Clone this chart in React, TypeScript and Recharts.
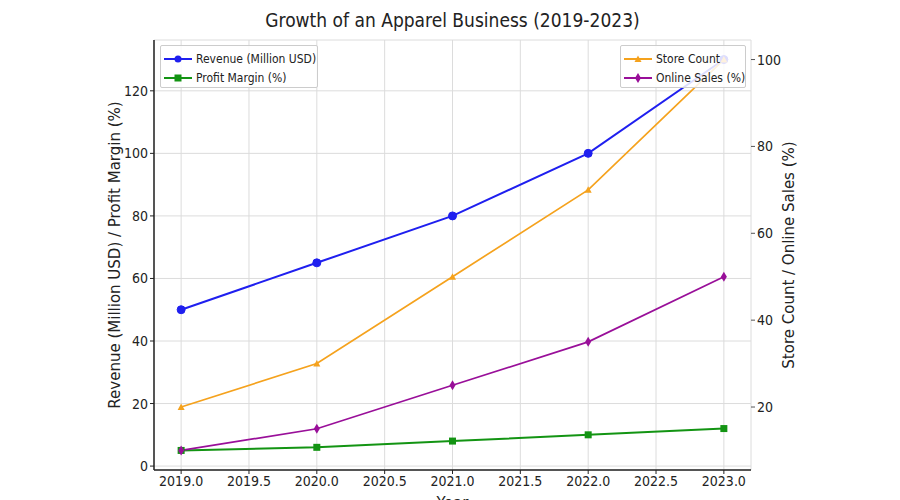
import { LineChart, Line, XAxis, YAxis, CartesianGrid } from "recharts";

const years = [2019, 2020, 2021, 2022, 2023];
const revenue = [50, 65, 80, 100, 130];
const profitMargin = [5, 6, 8, 10, 12];
const storeCount = [20, 30, 50, 70, 100];
const onlineSales = [10, 15, 25, 35, 50];

const xTicks = [2019, 2019.5, 2020, 2020.5, 2021, 2021.5, 2022, 2022.5, 2023];
const leftTicks = [0, 20, 40, 60, 80, 100, 120];
const rightTicks = [20, 40, 60, 80, 100];

const BLUE = "#1f1fef";
const GREEN = "#139413";
const ORANGE = "#f5a21d";
const PURPLE = "#990f99";
const FONT = "'DejaVu Sans', sans-serif";

const data = years.map((year, i) => ({
  year,
  revenue: revenue[i],
  profit: profitMargin[i],
  stores: storeCount[i],
  online: onlineSales[i],
}));

// marker shapes, roughly like matplotlib's o / s / ^ / d
const circleDot = (color: string) => (p: any) => (
  <circle key={`c${p.index}`} cx={p.cx} cy={p.cy} r={4} fill={color} stroke={color} />
);
const squareDot = (color: string) => (p: any) => (
  <rect key={`s${p.index}`} x={p.cx - 3.5} y={p.cy - 3.5} width={7} height={7} fill={color} />
);
const triangleDot = (color: string) => (p: any) => (
  <polygon
    key={`t${p.index}`}
    points={`${p.cx},${p.cy - 3.5} ${p.cx - 3.5},${p.cy + 3} ${p.cx + 3.5},${p.cy + 3}`}
    fill={color}
  />
);
const diamondDot = (color: string) => (p: any) => (
  <polygon
    key={`d${p.index}`}
    points={`${p.cx},${p.cy - 5} ${p.cx + 3},${p.cy} ${p.cx},${p.cy + 5} ${p.cx - 3},${p.cy}`}
    fill={color}
  />
);

const leftLegend = [
  { name: "Revenue (Million USD)", color: BLUE, marker: "circle" },
  { name: "Profit Margin (%)", color: GREEN, marker: "square" },
];
const rightLegend = [
  { name: "Store Count", color: ORANGE, marker: "triangle" },
  { name: "Online Sales (%)", color: PURPLE, marker: "diamond" },
];

const LegendIcon = ({ color, marker }: { color: string; marker: string }) => (
  <svg width={28} height={12} style={{ marginRight: 4, flexShrink: 0 }}>
    <line x1={0} y1={6} x2={28} y2={6} stroke={color} strokeWidth={2} />
    {marker === "circle" && <circle cx={14} cy={6} r={3.5} fill={color} />}
    {marker === "square" && <rect x={10.5} y={2.5} width={7} height={7} fill={color} />}
    {marker === "triangle" && <polygon points="14,2.5 10.5,9 17.5,9" fill={color} />}
    {marker === "diamond" && <polygon points="14,1 17,6 14,11 11,6" fill={color} />}
  </svg>
);

const LegendBox = ({ items, left, width }: { items: any[]; left: number; width: number }) => (
  <div
    style={{
      position: "absolute",
      zIndex: 10,
      left,
      top: 45,
      width,
      height: 43,
      boxSizing: "border-box",
      border: "1px solid #cccccc",
      borderRadius: 2,
      background: "rgba(255,255,255,0.85)",
      padding: "3px 0 0 3px",
      fontFamily: FONT,
      fontStretch: "condensed",
      fontSize: 12,
      color: "#222",
      whiteSpace: "nowrap",
    }}
  >
    {items.map((it) => (
      <div key={it.name} style={{ display: "flex", alignItems: "center", height: 19 }}>
        <LegendIcon color={it.color} marker={it.marker} />
        <span>{it.name}</span>
      </div>
    ))}
  </div>
);

const tickStyle = { fill: "#222", fontSize: 14, fontFamily: FONT, fontStretch: "condensed" } as any;
const labelStyle = { fill: "#222", fontSize: 15, fontFamily: FONT } as any;

export default function App() {
  return (
    <div style={{ position: "absolute", left: 0, top: 0, width: 900, height: 500, background: "#fff" }}>
      <div
        style={{
          position: "absolute",
          left: 0,
          width: 905,
          top: 9,
          textAlign: "center",
          fontFamily: FONT,
          fontStretch: "condensed",
          fontSize: 19,
          color: "#222",
        }}
      >
        Growth of an Apparel Business (2019-2023)
      </div>
      <LineChart
        width={900}
        height={500}
        data={data}
        margin={{ top: 40, right: 89, bottom: 0, left: 94 }}
        style={{ position: "absolute", left: 0, top: 0 }}
      >
        <CartesianGrid yAxisId="left" stroke="#dcdcdc" strokeWidth={1} />
        <XAxis
          dataKey="year"
          type="number"
          domain={[2018.8, 2023.2]}
          ticks={xTicks}
          tickFormatter={(v: number) => v.toFixed(1)}
          interval={0}
          height={30}
          tickSize={4}
          tick={tickStyle}
          axisLine={{ stroke: "#222", strokeWidth: 1.5 }}
          tickLine={{ stroke: "#222" }}
          allowDataOverflow
          label={{ value: "Year", position: "insideBottom", offset: -8, style: labelStyle }}
        />
        <YAxis
          yAxisId="left"
          domain={[-1.25, 136.25]}
          ticks={leftTicks}
          interval={0}
          width={60}
          tickSize={4}
          tick={tickStyle}
          axisLine={{ stroke: "#222", strokeWidth: 1.5 }}
          tickLine={{ stroke: "#222" }}
          allowDataOverflow
          label={{
            value: "Revenue (Million USD) / Profit Margin (%)",
            angle: -90,
            position: "center",
            dx: -9,
            style: labelStyle,
          }}
        />
        <YAxis
          yAxisId="right"
          orientation="right"
          domain={[5.5, 104.5]}
          ticks={rightTicks}
          interval={0}
          width={60}
          tickSize={4}
          tick={tickStyle}
          axisLine={false}
          tickLine={{ stroke: "#555" }}
          allowDataOverflow
          label={{
            value: "Store Count / Online Sales (%)",
            angle: -90,
            position: "center",
            dx: 8,
            style: labelStyle,
          }}
        />
        <Line yAxisId="left" dataKey="revenue" stroke={BLUE} strokeWidth={2} dot={circleDot(BLUE)} isAnimationActive={false} />
        <Line yAxisId="left" dataKey="profit" stroke={GREEN} strokeWidth={2} dot={squareDot(GREEN)} isAnimationActive={false} />
        <Line yAxisId="right" dataKey="stores" stroke={ORANGE} strokeWidth={1.7} dot={triangleDot(ORANGE)} isAnimationActive={false} />
        <Line yAxisId="right" dataKey="online" stroke={PURPLE} strokeWidth={1.7} dot={diamondDot(PURPLE)} isAnimationActive={false} />
      </LineChart>
      <LegendBox items={leftLegend} left={160} width={158} />
      <LegendBox items={rightLegend} left={620} width={126} />
    </div>
  );
}
